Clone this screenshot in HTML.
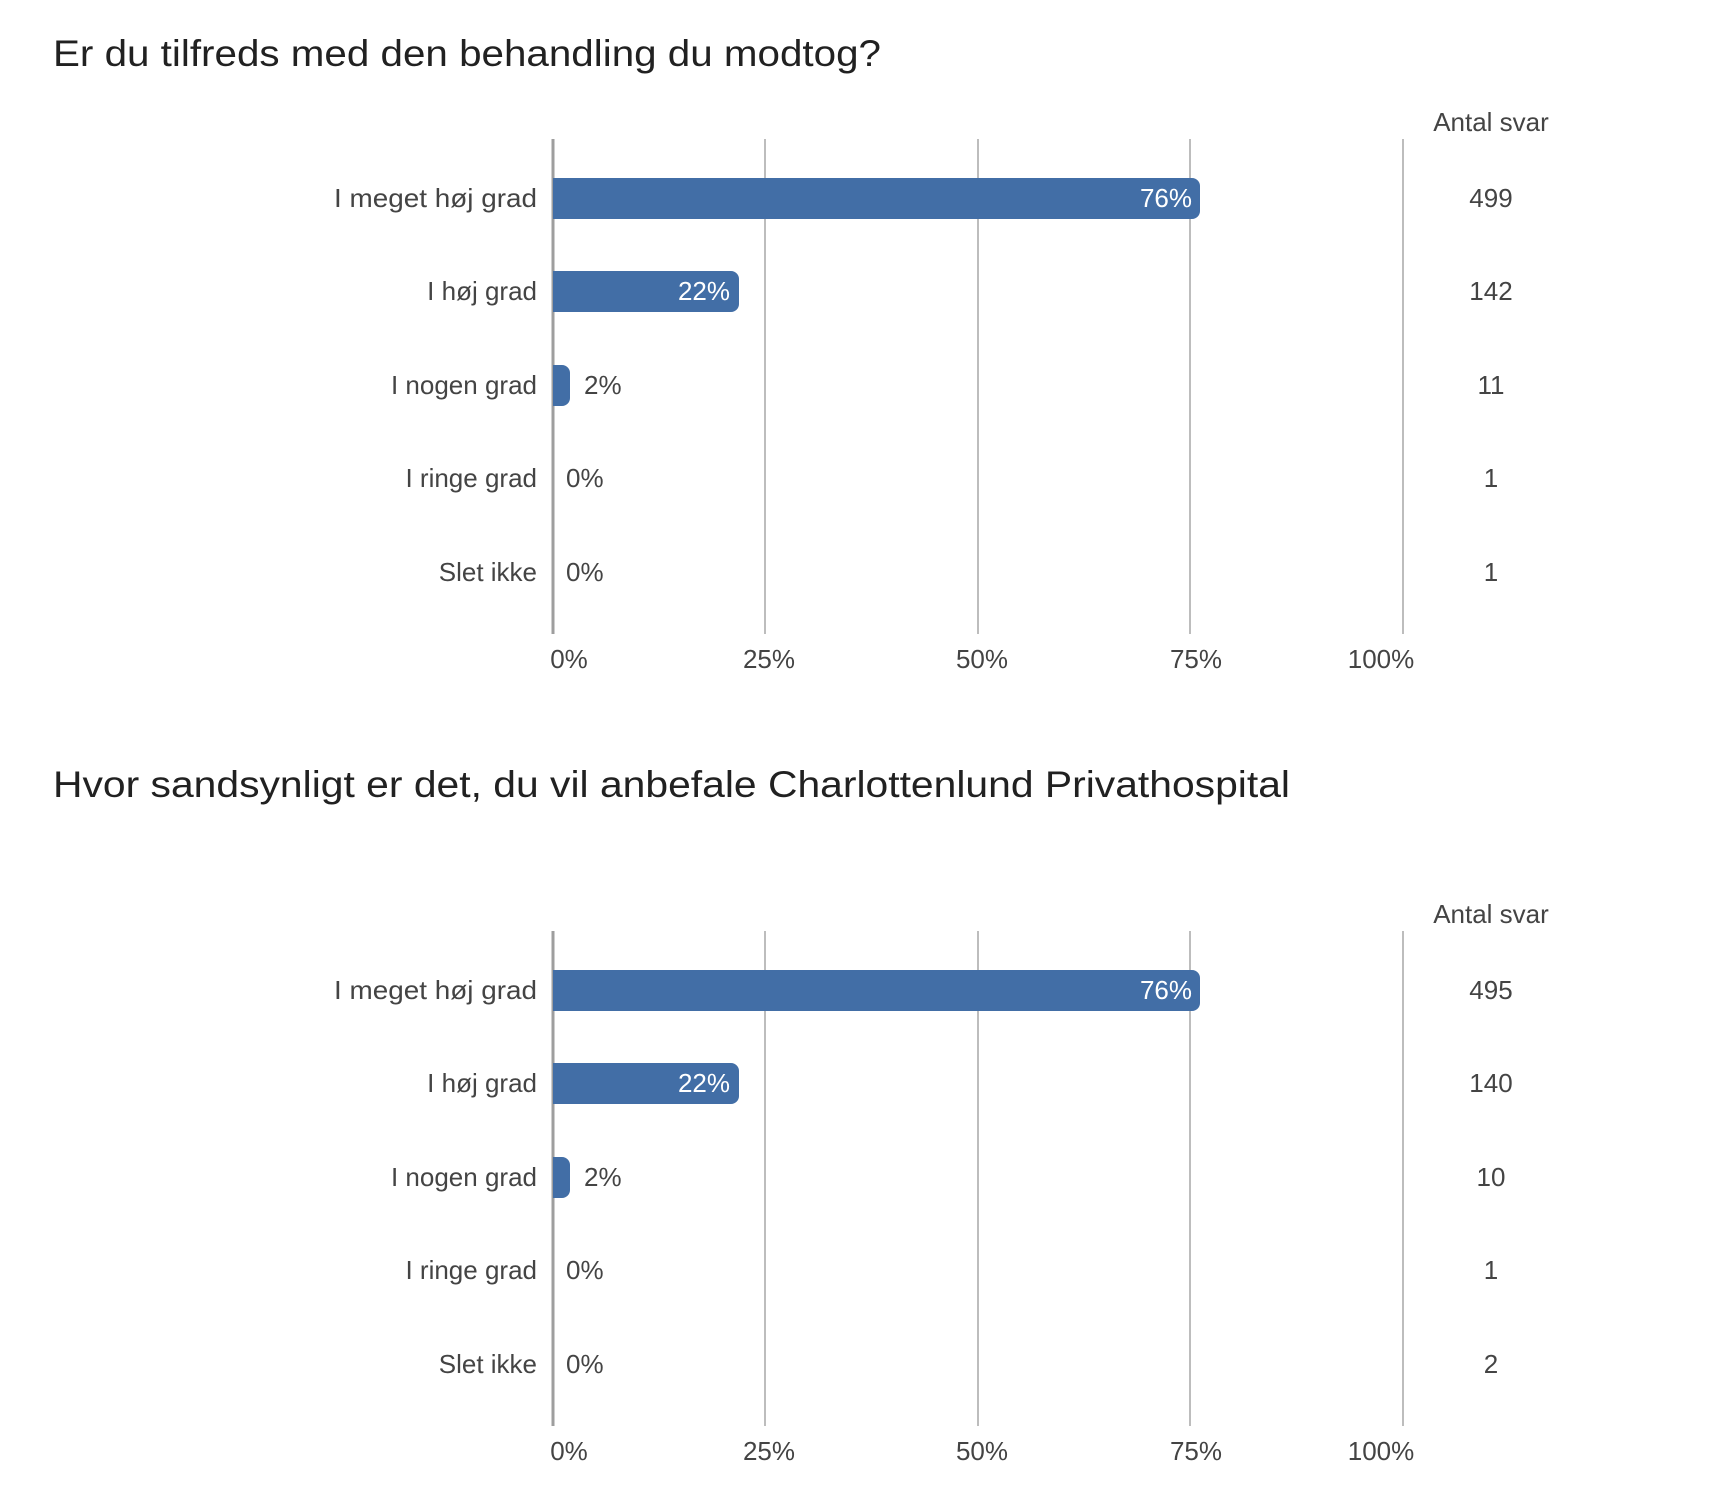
<!DOCTYPE html>
<html><head><meta charset="utf-8"><style>
html,body{margin:0;padding:0;background:#fff;}
svg{display:block;font-family:"Liberation Sans",Arial,sans-serif;}
</style></head><body>
<svg width="1715" height="1495" viewBox="0 0 1715 1495" xmlns="http://www.w3.org/2000/svg">
<defs>
<g id="grid">
<g stroke="#bdbdbd" stroke-width="2">
<line x1="765" y1="139" x2="765" y2="634"/><line x1="978" y1="139" x2="978" y2="634"/><line x1="1190" y1="139" x2="1190" y2="634"/><line x1="1403" y1="139" x2="1403" y2="634"/>
</g>
<line x1="553" y1="139" x2="553" y2="634" stroke="#9e9e9e" stroke-width="3"/>
<g fill="#426ea6">
<path d="M553 178H1192a8 8 0 0 1 8 8V211a8 8 0 0 1-8 8H553Z"/>
<path d="M553 271H731a8 8 0 0 1 8 8V304a8 8 0 0 1-8 8H553Z"/>
<path d="M553 365H562a8 8 0 0 1 8 8V398a8 8 0 0 1-8 8H553Z"/>
</g>
</g>
</defs>
<text x="53" y="66" font-size="37" fill="#212121" textLength="828" lengthAdjust="spacingAndGlyphs">Er du tilfreds med den behandling du modtog?</text>
<g id="c1">
<text x="1491" y="131" font-size="26" fill="#444" text-anchor="middle">Antal svar</text>
<use href="#grid"/>
<g font-size="26" fill="#fff" text-anchor="end">
<text x="1192" y="207">76%</text><text x="730" y="300">22%</text>
</g>
<g font-size="26" fill="#444">
<text x="584" y="394">2%</text><text x="566" y="487">0%</text><text x="566" y="581">0%</text>
</g>
<g font-size="26" fill="#444" text-anchor="end">
<text x="537" y="207" textLength="203" lengthAdjust="spacingAndGlyphs">I meget høj grad</text><text x="537" y="300">I høj grad</text><text x="537" y="394">I nogen grad</text><text x="537" y="487">I ringe grad</text><text x="537" y="581">Slet ikke</text>
</g>
<g font-size="26" fill="#444" text-anchor="middle">
<text x="1491" y="207">499</text><text x="1491" y="300">142</text><text x="1491" y="394">11</text><text x="1491" y="487">1</text><text x="1491" y="581">1</text>
<text x="569" y="668">0%</text><text x="769" y="668">25%</text><text x="982" y="668">50%</text><text x="1196" y="668">75%</text><text x="1381" y="668">100%</text>
</g>
</g>
<g id="c2" transform="translate(0,792)">
<text x="1491" y="131" font-size="26" fill="#444" text-anchor="middle">Antal svar</text>
<use href="#grid"/>
<g font-size="26" fill="#fff" text-anchor="end">
<text x="1192" y="207">76%</text><text x="730" y="300">22%</text>
</g>
<g font-size="26" fill="#444">
<text x="584" y="394">2%</text><text x="566" y="487">0%</text><text x="566" y="581">0%</text>
</g>
<g font-size="26" fill="#444" text-anchor="end">
<text x="537" y="207" textLength="203" lengthAdjust="spacingAndGlyphs">I meget høj grad</text><text x="537" y="300">I høj grad</text><text x="537" y="394">I nogen grad</text><text x="537" y="487">I ringe grad</text><text x="537" y="581">Slet ikke</text>
</g>
<g font-size="26" fill="#444" text-anchor="middle">
<text x="1491" y="207">495</text><text x="1491" y="300">140</text><text x="1491" y="394">10</text><text x="1491" y="487">1</text><text x="1491" y="581">2</text>
<text x="569" y="668">0%</text><text x="769" y="668">25%</text><text x="982" y="668">50%</text><text x="1196" y="668">75%</text><text x="1381" y="668">100%</text>
</g>
</g>
<text x="53" y="797" font-size="37" fill="#212121" textLength="1237" lengthAdjust="spacingAndGlyphs">Hvor sandsynligt er det, du vil anbefale Charlottenlund Privathospital</text>
</svg>
</body></html>
